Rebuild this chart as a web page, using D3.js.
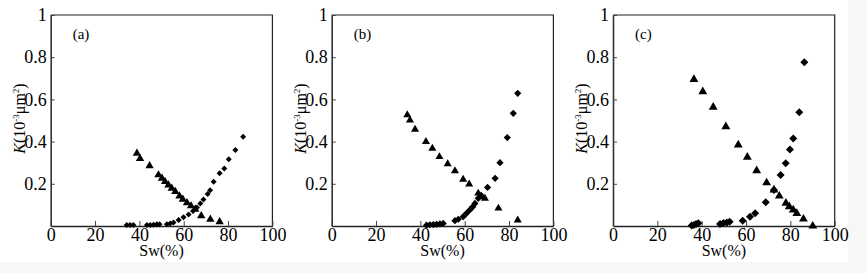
<!DOCTYPE html>
<html>
<head>
<meta charset="utf-8">
<script src="https://cdn.jsdelivr.net/npm/d3@7"></script>
<style>
  body { margin: 0; background: #fff; }
  svg { display: block; }
  svg text { font-family: "Liberation Serif", "Times New Roman", "DejaVu Serif", serif !important; }
</style>
</head>
<body>
<div id="chart"></div>
<script>
// Relative permeability K vs water saturation Sw, three samples (a)(b)(c)

const panelNames = ["(a)", "(b)", "(c)"];
const xTicks = [0, 20, 40, 60, 80, 100];
const yTicks = [0.2, 0.4, 0.6, 0.8, 1];

// [Sw(%), K]
const triA = [[38.9, 0.344], [40.3, 0.32], [44.6, 0.285], [48.6, 0.242], [50.2, 0.226], [51.6, 0.21],
  [53.1, 0.194], [54.6, 0.179], [56.2, 0.163], [58.1, 0.142], [59.6, 0.126], [61.5, 0.11],
  [63.3, 0.095], [65.2, 0.079], [67.9, 0.048], [72.0, 0.032], [76.2, 0.02]];
const diaA = [[34.3, 0.005], [35.8, 0.005], [37.3, 0.005], [43.4, 0.005], [44.9, 0.005], [46.4, 0.006],
  [47.9, 0.008], [49.1, 0.008], [52.4, 0.008], [53.9, 0.012], [55.4, 0.016], [57.7, 0.028],
  [59.9, 0.041], [62.2, 0.055], [64.2, 0.071], [66.0, 0.088], [67.5, 0.107], [68.9, 0.126],
  [70.8, 0.152], [71.9, 0.17], [73.5, 0.21], [76.2, 0.25], [78.3, 0.273], [80.3, 0.316],
  [83.3, 0.36], [86.8, 0.423]];

const triB = [[34.1, 0.526], [35.3, 0.502], [37.6, 0.458], [42.5, 0.4], [45.4, 0.368], [48.6, 0.328],
  [52.3, 0.294], [55.6, 0.261], [59.3, 0.221], [62.0, 0.198], [66.1, 0.155], [67.6, 0.139],
  [69.1, 0.131], [75.2, 0.084], [83.9, 0.028]];
const diaB = [[42.8, 0.004], [44.3, 0.006], [45.8, 0.007], [47.3, 0.008], [48.8, 0.01], [50.3, 0.012],
  [55.6, 0.025], [57.1, 0.032], [59.3, 0.044], [60.8, 0.06], [62.3, 0.076], [63.6, 0.091],
  [64.6, 0.107], [66.1, 0.131], [67.4, 0.145], [70.3, 0.183], [73.7, 0.226], [75.9, 0.3],
  [79.2, 0.419], [81.9, 0.534], [83.9, 0.629]];

const triC = [[36.5, 0.695], [40.5, 0.637], [45.2, 0.563], [50.9, 0.471], [56.5, 0.384], [60.6, 0.326],
  [64.8, 0.262], [69.3, 0.205], [72.6, 0.171], [75.0, 0.142], [78.0, 0.108], [79.5, 0.092],
  [81.3, 0.076], [82.9, 0.06], [85.9, 0.033], [90.1, 0.0]];
const diaC = [[35.5, 0.002], [36.5, 0.005], [37.5, 0.01], [38.5, 0.013], [48.3, 0.01], [49.8, 0.014],
  [51.3, 0.017], [52.6, 0.02], [58.5, 0.025], [61.8, 0.044], [64.1, 0.06], [68.9, 0.112],
  [72.6, 0.171], [75.6, 0.242], [77.9, 0.297], [79.8, 0.363], [81.3, 0.415], [84.0, 0.539],
  [86.3, 0.776]];

const panelData = [
  { name: panelNames[0], tri: triA, dia: diaA, triSize: 30, diaSize: 18 },
  { name: panelNames[1], tri: triB, dia: diaB, triSize: 28, diaSize: 26 },
  { name: panelNames[2], tri: triC, dia: diaC, triSize: 34, diaSize: 32 }
];

const W = 867, H = 273;
const panelLeft = [50.7, 331.7, 613];
const plotW = 221.7, plotH = 211, plotTop = 15;

const svg = d3.select("#chart").append("svg")
  .attr("width", W)
  .attr("height", H);

svg.append("rect").attr("width", W).attr("height", H).attr("fill", "#f7f7f7");
svg.append("rect").attr("width", 848).attr("height", 262).attr("fill", "#fff");

panelData.forEach((p, i) => {
  const g = svg.append("g")
    .attr("transform", `translate(${panelLeft[i]},${plotTop})`);

  const x = d3.scaleLinear().domain([0, 100]).range([0, plotW]);
  const y = d3.scaleLinear().domain([0, 1]).range([plotH, 0]);

  // frame (top + right)
  g.append("path")
    .attr("d", `M0,0H${plotW}V${plotH}`)
    .attr("fill", "none")
    .attr("stroke", "#222")
    .attr("stroke-width", 1.2);

  const xAxis = g.append("g")
    .attr("transform", `translate(0,${plotH})`)
    .call(d3.axisBottom(x).tickValues(xTicks).tickSizeInner(-5).tickSizeOuter(0).tickPadding(2));
  xAxis.select(".domain").attr("stroke", "#222").attr("stroke-width", 1.4);
  xAxis.selectAll(".tick line").attr("stroke", "#444");
  xAxis.selectAll("text").attr("font-size", "18px").attr("fill", "#000");

  const yAxis = g.append("g")
    .call(d3.axisLeft(y).tickValues(yTicks).tickSizeInner(-4).tickSizeOuter(0).tickPadding(4)
      .tickFormat(d => d === 1 ? "1" : d3.format(".1f")(d)));
  yAxis.select(".domain").attr("stroke", "#333").attr("stroke-width", 1.6);
  yAxis.selectAll(".tick line").attr("stroke", "#444");
  yAxis.selectAll("text").attr("font-size", "18px").attr("fill", "#000");

  // panel tag
  g.append("text")
    .attr("x", 22)
    .attr("y", 24)
    .attr("font-size", "15px")
    .text(p.name);

  // x label
  g.append("text")
    .attr("x", plotW / 2)
    .attr("y", plotH + 30)
    .attr("text-anchor", "middle")
    .attr("font-size", "16px")
    .text("Sw(%)");

  // y label
  const yl = g.append("text")
    .attr("transform", `translate(-26,${plotH / 2 - 2}) rotate(-90)`)
    .attr("text-anchor", "middle")
    .attr("font-size", "16px");
  yl.append("tspan").attr("font-style", "italic").text("K");
  yl.append("tspan").text("(10");
  yl.append("tspan").attr("font-size", "9px").attr("dy", "-6").text("-3");
  yl.append("tspan").attr("dy", "6").text("μm");
  yl.append("tspan").attr("font-size", "9px").attr("dy", "-6").text("2");
  yl.append("tspan").attr("dy", "6").text(")");

  g.selectAll(".tri")
    .data(p.tri)
    .join("path")
    .attr("class", "tri")
    .attr("transform", d => `translate(${x(d[0])},${y(d[1])})`)
    .attr("d", d3.symbol(d3.symbolTriangle, p.triSize))
    .attr("fill", "#000");

  g.selectAll(".dia")
    .data(p.dia)
    .join("path")
    .attr("class", "dia")
    .attr("transform", d => `translate(${x(d[0])},${y(d[1])}) rotate(45)`)
    .attr("d", d3.symbol(d3.symbolSquare, p.diaSize))
    .attr("fill", "#000");
});
</script>
</body>
</html>
